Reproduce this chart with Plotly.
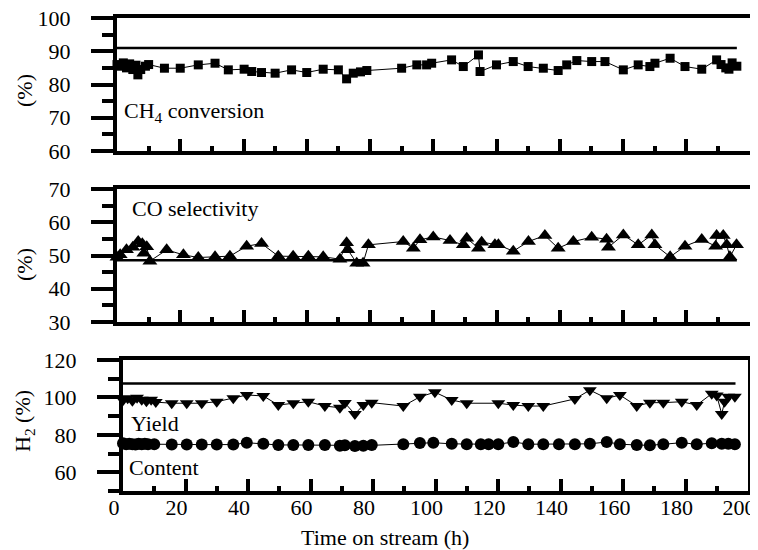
import plotly.graph_objects as go

# ---------------- data ----------------
ch4_t = [0, 1, 2, 3, 4, 5, 6, 6.6, 7.5, 9, 10, 15, 20, 25.7, 31, 35.2, 40.2, 42.6, 45.7, 50,
         55.2, 60, 65.2, 70, 72.6, 74.7, 77, 79, 90, 94.8, 97.9, 99.5, 105.8, 109.5, 114.3,
         114.8, 120, 125.3, 130, 134.8, 139.5, 142.2, 145.4, 150.1, 154.3, 160.1, 164.8,
         168.5, 170.1, 174.9, 179.6, 184.9, 189.6, 191, 192.5, 193.5, 194.5, 196]
ch4_conv = [86, 85.5, 86.5, 85, 86.2, 84.5, 85.8, 82.9, 84.5, 85.5, 86, 84.9, 84.9, 85.9, 86.4,
            84.4, 84.6, 83.9, 83.6, 83.4, 84.4, 83.6, 84.6, 84.4, 81.7, 83.4, 83.8, 84.2, 84.9,
            85.9, 85.9, 86.4, 87.4, 85.4, 88.9, 83.9, 85.9, 86.9, 85.4, 84.9, 84.2, 85.9, 87.2,
            86.9, 86.9, 84.4, 85.9, 85.4, 86.4, 87.9, 85.4, 84.6, 87.4, 86, 85, 84.6, 86.5, 85.5]
ch4_ref = 91.0

co_t = [0, 1, 3, 5, 6.7, 8, 8.5, 9.4, 10.4, 15.7, 21, 25.7, 31, 35.7, 41, 45.7, 51, 55.7, 60.5,
        65.2, 70.5, 72.6, 73, 75.8, 77.8, 79.5, 90.5, 93.7, 95.8, 100, 105.3, 109.5, 110.6,
        114.3, 115.3, 119.5, 120.6, 125.3, 130.1, 135.3, 139.5, 144.3, 150.1, 154.8, 155.4,
        160.1, 164.8, 169.1, 170.1, 174.9, 179.6, 184.9, 189.3, 189.6, 191.7, 192.8, 193.8, 195.9]
co_sel = [49.5, 50.2, 51.7, 52.5, 54.2, 53.5, 50.7, 52.6, 48.3, 51.7, 50.2, 49.4, 49.6, 49.8,
          52.8, 53.6, 49.8, 49.8, 49.8, 49.6, 48.9, 53.8, 51.7, 47.7, 47.7, 53.2, 54.2, 52.2,
          54.7, 55.6, 54.5, 53.2, 55.2, 52.2, 54.0, 53.2, 53.2, 51.3, 54.2, 56.0, 52.2, 54.2,
          55.5, 54.9, 52.5, 56.2, 53.2, 56.2, 53.2, 49.6, 52.8, 54.8, 52.8, 56.0, 56.0, 53.2,
          49.6, 53.2]
co_ref = 48.6

yield_t = [0, 1.5, 3, 4.5, 6, 7.5, 9, 10.5, 15.6, 20.4, 25.2, 30, 35.3, 39.6, 44.9, 49.7, 54.5,
           59.3, 64.6, 69.4, 71, 74.2, 76.9, 79.6, 89.7, 95, 99.8, 105.2, 110, 120.1, 124.9,
           129.7, 134.5, 144.6, 149.4, 154.8, 159, 164.4, 168.6, 172.9, 178.8, 183.6, 188.4,
           190, 191.6, 192.5, 193.7, 195.8]
h2_yield = [98.5, 99.5, 98.2, 99.8, 98.8, 98, 98.8, 97.5, 96.9, 96.9, 96.9, 97.7, 99.5, 101.3,
            100.8, 95.9, 96.9, 97.7, 95.4, 94.5, 97, 91.1, 95.9, 97.2, 95.4, 100.3, 102.8, 98.6,
            96.9, 96.9, 95.9, 95.4, 95.4, 99.2, 103.9, 99.5, 101.3, 95.4, 97.2, 97.2, 97.7, 95.9,
            102, 101, 91.1, 97.7, 100.3, 100.3]
h2_ref = 107.5

content_t = [0, 1, 2, 3, 4, 5, 6, 7, 8, 10, 15.6, 20.4, 25.2, 30, 35.3, 39.6, 44.9, 49.7, 54.5,
             59.3, 64.6, 69.4, 71, 74.2, 76.9, 79.6, 89.7, 95, 99.3, 105.2, 110, 114.5, 117,
             120.1, 124.9, 129.7, 134.5, 139.5, 144.6, 149.4, 154.8, 159, 164.4, 168.6, 172.9,
             178.8, 183.6, 188.4, 191.6, 193.7, 195.8]
h2_content = [75.5, 75, 75.3, 75, 74.8, 75.2, 75, 75.3, 75, 75, 74.8, 74.8, 74.8, 74.8, 74.8,
              75.8, 75.2, 74.6, 74.6, 74.6, 74.6, 74.2, 74.4, 74.0, 74.2, 74.6, 75, 75.6, 75.8,
              75.2, 75, 75, 75, 75, 76.2, 75, 75, 75, 75, 75.2, 76.2, 75, 74.6, 74.4, 75, 75.8,
              75, 75.5, 75.3, 75.2, 75]

ref_t = [0, 196]
x_ticks = [0, 20, 40, 60, 80, 100, 120, 140, 160, 180, 200]

# ---------------- figure ----------------
FONT = "Liberation Serif"
fig = go.Figure()

def series(x, y, sym, size, xa, ya):
    fig.add_trace(go.Scatter(
        x=x, y=y, mode="lines+markers", xaxis=xa, yaxis=ya,
        line=dict(color="black", width=1),
        marker=dict(symbol=sym, size=size, color="black", line=dict(width=0)),
        showlegend=False, cliponaxis=False))

def refline(v, xa, ya):
    fig.add_trace(go.Scatter(
        x=ref_t, y=[v, v], mode="lines", xaxis=xa, yaxis=ya,
        line=dict(color="black", width=2.5), showlegend=False))

refline(ch4_ref, "x", "y")
series(ch4_t, ch4_conv, "square", 9, "x", "y")
refline(co_ref, "x2", "y2")
series(co_t, co_sel, "triangle-up", 13, "x2", "y2")
refline(h2_ref, "x3", "y3")
series(yield_t, h2_yield, "triangle-down", 12, "x3", "y3")
series(content_t, h2_content, "circle", 12, "x3", "y3")

# page body adds an 8 px offset; the figure is sized so it fills the 758x550 window
OFF = 8
W, H = 758 - OFF, 550 - OFF
def px_x(a, b):
    return [(a - OFF) / W, (b - OFF) / W]
def px_y(top, bot):
    return [1 - (bot - OFF) / H, 1 - (top - OFF) / H]

common_x = dict(range=[0, 200], showline=True, linewidth=4, linecolor="black", mirror=True,
                ticks="inside", ticklen=12, tickwidth=4, tickcolor="black",
                tickvals=x_ticks, showgrid=False, zeroline=False, automargin=False,
                ticklabeloverflow="allow",
                minor=dict(ticks="inside", ticklen=5, tickwidth=4, tickcolor="black",
                           dtick=10, tick0=0, showgrid=False),
                tickfont=dict(family=FONT, size=22, color="black"))
common_y = dict(showline=True, linewidth=4, linecolor="black", mirror=True,
                ticks="outside", ticklen=22, tickwidth=4, tickcolor="black",
                showgrid=False, zeroline=False, ticklabelstandoff=16, automargin=False,
                ticklabeloverflow="allow",
                tickfont=dict(family=FONT, size=22, color="black"))

fig.update_layout(
    template="none",
    width=W, height=H, margin=dict(l=0, r=0, t=0, b=0, pad=0, autoexpand=False),
    plot_bgcolor="white", paper_bgcolor="white",
    font=dict(family=FONT, size=22, color="black"),
    xaxis=dict(common_x, domain=px_x(117, 749.5), anchor="y", showticklabels=False),
    xaxis2=dict(common_x, domain=px_x(117, 749.5), anchor="y2", showticklabels=False),
    xaxis3=dict(common_x, domain=px_x(123, 748), anchor="y3", showticklabels=True),
    yaxis=dict(common_y, domain=px_y(18, 151), anchor="x", range=[60, 100],
               tickvals=[60, 70, 80, 90, 100],
               minor=dict(ticks="outside", ticklen=11, tickwidth=4, tickcolor="black",
                          dtick=5, tick0=0, showgrid=False)),
    yaxis2=dict(common_y, domain=px_y(189, 322), anchor="x2", range=[30, 70],
                tickvals=[30, 40, 50, 60, 70],
                minor=dict(ticks="outside", ticklen=11, tickwidth=4, tickcolor="black",
                           dtick=5, tick0=0, showgrid=False)),
    yaxis3=dict(common_y, domain=px_y(360, 491), anchor="x3", range=[50, 120],
                tickvals=[60, 80, 100, 120],
                minor=dict(ticks="outside", ticklen=11, tickwidth=4, tickcolor="black",
                           dtick=10, tick0=0, showgrid=False)),
)
try:
    fig.update_layout(xaxis3_ticklabelstandoff=-6)
except ValueError:
    pass
try:
    fig.update_layout(xaxis3_ticklabelshift=-9)
except ValueError:
    pass

def ann(text, x, y, angle=0, xanchor="left"):
    fig.add_annotation(text=text, xref="paper", yref="paper",
                       x=(x - OFF) / W, y=1 - (y - OFF) / H,
                       xanchor=xanchor, yanchor="middle", showarrow=False, textangle=angle,
                       font=dict(family=FONT, size=22, color="black"))

ann("(%)", 24, 91, -90, "center")
ann("(%)", 24, 265, -90, "center")
ann("H<sub>2</sub> (%)", 24, 421, -90, "center")
ann("CH<sub>4</sub> conversion", 122, 112)
ann("CO selectivity", 130, 208)
ann("Yield", 129, 423)
ann("Content", 127, 467)
ann("Time on stream (h)", 385, 537, 0, "center")

fig.write_html("out.html")
